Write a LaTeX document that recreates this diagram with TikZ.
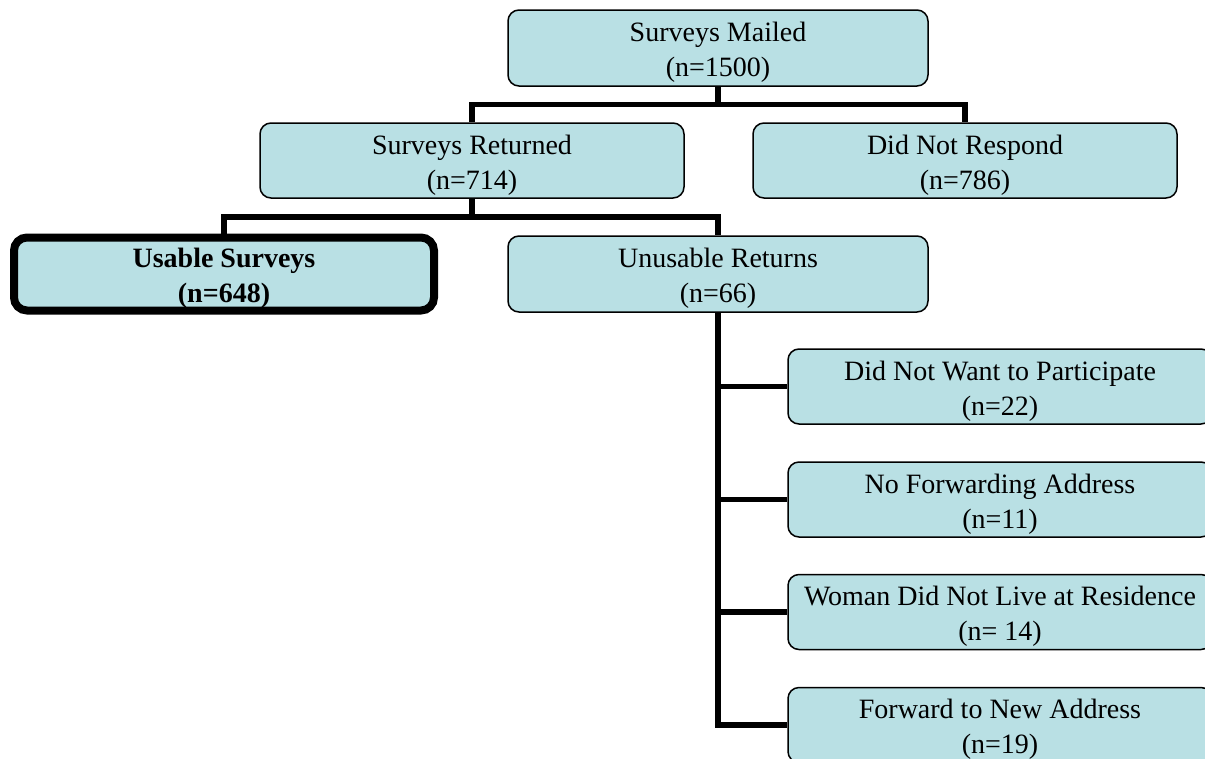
\documentclass[tikz,border=0pt]{standalone}
\usepackage{fontspec}
\setmainfont{Liberation Serif}
\definecolor{boxfill}{RGB}{185,224,228}
\newcommand\twolines[2]{\rule{0pt}{28pt}#1\\#2}
\begin{document}
\begin{tikzpicture}[x=1pt,y=-1pt,
  box/.style={draw=black,line width=1.5pt,fill=boxfill,rounded corners=11pt,
    minimum width=#1,minimum height=75pt,inner sep=0pt,align=center,
    font=\fontsize{28}{35}\selectfont},
  box/.default=424pt,
  conn/.style={draw=black,line width=5.5pt,line join=miter}]
\useasboundingbox (0,0) rectangle (1205,758);
\node[box=420pt,minimum height=76pt] (mailed) at (718,48) {\twolines{Surveys Mailed}{(n=1500)}};
\node[box] (returned) at (472,160.5) {\twolines{Surveys Returned}{(n=714)}};
\node[box] (dnr) at (965,160.5) {\twolines{Did Not Respond}{(n=786)}};
\node[box=420pt,minimum height=73pt,line width=8pt,rounded corners=13pt,
  font=\fontsize{28}{35}\selectfont\bfseries] (usable) at (224,274) {\twolines{Usable Surveys}{(n=648)}};
\node[box=420pt,minimum height=76pt] (unusable) at (718,274) {\twolines{Unusable Returns}{(n=66)}};
\node[box] (c1) at (1000,386.5) {\twolines{Did Not Want to Participate}{(n=22)}};
\node[box] (c2) at (1000,499.5) {\twolines{No Forwarding Address}{(n=11)}};
\node[box] (c3) at (1000,612) {\twolines{Woman Did Not Live at Residence}{(n= 14)}};
\node[box] (c4) at (1000,725) {\twolines{Forward to New Address}{(n=19)}};
\coordinate (j1) at (718,104.5);
\coordinate (j2) at (472,217);
\draw[conn] (mailed.south) -- (j1) -| (returned.north);
\draw[conn] (j1) -| (dnr.north);
\draw[conn] (returned.south) -- (j2) -| (usable.north);
\draw[conn] (j2) -| (unusable.north);
\draw[conn] (unusable.south) |- (c1.west);
\draw[conn] (unusable.south) |- (c2.west);
\draw[conn] (unusable.south) |- (c3.west);
\draw[conn] (unusable.south) |- (c4.west);
\end{tikzpicture}
\end{document}
